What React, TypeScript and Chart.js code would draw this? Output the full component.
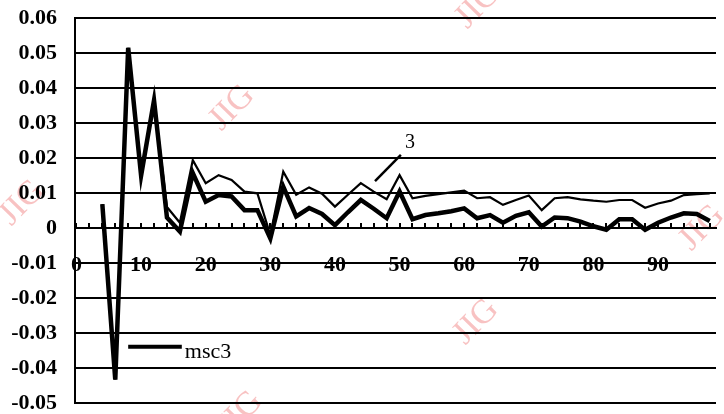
import { useEffect, useRef } from 'react';
import { Chart, registerables } from 'chart.js';

Chart.register(...registerables);

// x positions of the samples
const positions = [4, 6, 8, 10, 12, 14, 16, 18, 20, 22, 24, 26, 28, 30, 32, 34, 36, 38, 40, 42, 44, 46, 48, 50,
  52, 54, 56, 58, 60, 62, 64, 66, 68, 70, 72, 74, 76, 78, 80, 82, 84, 86, 88, 90, 92, 94, 96, 98];

// thick series "msc3"
const msc3 = [0.0068, -0.0433, 0.0515, 0.015, 0.0365, 0.003, -0.001, 0.0157, 0.0075, 0.0094, 0.009, 0.0051,
  0.0051, -0.003, 0.0118, 0.0033, 0.0057, 0.004, 0.0008, 0.0045, 0.008, 0.0055, 0.0028, 0.0104,
  0.0025, 0.0037, 0.0042, 0.0048, 0.0056, 0.0028, 0.0037, 0.0015, 0.0035, 0.0045, 0.0004, 0.003,
  0.0028, 0.0018, 0.0005, -0.0005, 0.0025, 0.0025, -0.0005, 0.0015, 0.003, 0.0042, 0.004, 0.002];

// thin series "3"
const series3 = [0.0068, -0.0433, 0.0515, 0.015, 0.0365, 0.006, 0.0015, 0.0194, 0.0128, 0.0151, 0.0137, 0.0104,
  0.0099, -0.002, 0.0161, 0.0095, 0.0116, 0.0098, 0.0061, 0.0095, 0.0128, 0.0104, 0.0082, 0.0151,
  0.0085, 0.0092, 0.0097, 0.0102, 0.0107, 0.0085, 0.0088, 0.0066, 0.008, 0.0093, 0.0051, 0.0085,
  0.0088, 0.0082, 0.0078, 0.0075, 0.008, 0.008, 0.0058, 0.007, 0.0078, 0.0094, 0.0097, 0.0099];

const xLabelValues = [0, 10, 20, 30, 40, 50, 60, 70, 80, 90];
const xMinorTicks = [0, 2, 4, 6, 8, 10, 12, 14, 16, 18, 20, 22, 24, 26, 28, 30, 32, 34, 36, 38, 40, 42, 44, 46, 48,
  50, 52, 54, 56, 58, 60, 62, 64, 66, 68, 70, 72, 74, 76, 78, 80, 82, 84, 86, 88, 90, 92, 94, 96, 98];

const Y_MIN = -0.05;
const Y_MAX = 0.06;
const Y_STEP = 0.01;

const LEGEND_TEXT = 'msc3';
const CURVE_LABEL = '3';
const WATERMARK = 'JIG';

const SERIF = '"Liberation Serif", "Times New Roman", serif';

export default function App() {
  const ref = useRef<HTMLCanvasElement>(null);

  useEffect(() => {
    document.body.style.margin = '0';
    const canvas = ref.current;
    if (!canvas) return;

    const decorations = {
      id: 'decorations',
      beforeDraw(chart: any) {
        const ctx = chart.ctx;
        const marks = [
          [232, 108], [478, 6], [22, 203], [476, 322], [702, 228], [240, 414],
        ];
        ctx.save();
        ctx.fillStyle = 'rgba(240, 120, 120, 0.45)';
        ctx.font = `34px ${SERIF}`;
        ctx.textAlign = 'center';
        ctx.textBaseline = 'middle';
        for (const [x, y] of marks) {
          ctx.save();
          ctx.translate(x, y);
          ctx.rotate(-0.8);
          ctx.fillText(WATERMARK, 0, 0);
          ctx.restore();
        }
        ctx.restore();
      },
      afterDatasetsDraw(chart: any) {
        const ctx = chart.ctx;
        const xs = chart.scales.x;
        const ys = chart.scales.y;
        ctx.save();
        // legend
        const lx1 = xs.getPixelForValue(8);
        const lx2 = xs.getPixelForValue(16.3);
        const ly = ys.getPixelForValue(-0.0339);
        ctx.strokeStyle = '#000';
        ctx.lineWidth = 4;
        ctx.beginPath();
        ctx.moveTo(lx1, ly);
        ctx.lineTo(lx2, ly);
        ctx.stroke();
        ctx.fillStyle = '#000';
        ctx.font = `22px ${SERIF}`;
        ctx.textAlign = 'left';
        ctx.textBaseline = 'alphabetic';
        ctx.fillText(LEGEND_TEXT, lx2 + 3, ly + 11);
        // curve label "3" with pointer
        ctx.lineWidth = 2.5;
        ctx.beginPath();
        ctx.moveTo(xs.getPixelForValue(46.2), ys.getPixelForValue(0.0134));
        ctx.lineTo(xs.getPixelForValue(50.2), ys.getPixelForValue(0.0209));
        ctx.stroke();
        ctx.font = `20px ${SERIF}`;
        ctx.textAlign = 'center';
        ctx.fillText(CURVE_LABEL, xs.getPixelForValue(51.6), ys.getPixelForValue(0.0229));
        ctx.restore();
      },
    };

    const chart = new Chart(canvas, {
      type: 'line',
      data: {
        datasets: [
          {
            label: 'msc3',
            data: positions.map((x, i) => ({ x, y: msc3[i] })),
            borderColor: '#000',
            borderWidth: 4.5,
            pointRadius: 0,
            tension: 0,
            fill: false,
          },
          {
            label: '3',
            data: positions.map((x, i) => ({ x, y: series3[i] })),
            borderColor: '#000',
            borderWidth: 2.2,
            pointRadius: 0,
            tension: 0,
            fill: false,
          },
        ],
      },
      options: {
        responsive: false,
        animation: false,
        layout: { padding: { top: 18, bottom: 11, left: 0, right: 8 } },
        plugins: {
          legend: { display: false },
          tooltip: { enabled: false },
        },
        scales: {
          x: {
            type: 'linear',
            min: -0.23,
            max: 98.97,
            position: { y: 0 } as any,
            afterBuildTicks: (s: any) => {
              s.ticks = xMinorTicks.map((v) => ({ value: v }));
            },
            afterFit: (s: any) => {
              s.paddingLeft = 0;
              s.paddingRight = 0;
            },
            ticks: {
              autoSkip: false,
              maxRotation: 0,
              minRotation: 0,
              padding: 30,
              color: '#000',
              font: { family: SERIF, size: 22, weight: 'bold' },
              callback: (v: any) => (xLabelValues.includes(Number(v)) ? String(v) : ''),
            },
            grid: { drawOnChartArea: false, color: '#000', lineWidth: 2, tickLength: -6 },
            border: { color: '#000', width: 2 },
          },
          y: {
            type: 'linear',
            min: Y_MIN,
            max: Y_MAX,
            afterFit: (s: any) => {
              s.width = 75;
              s.paddingTop = 0;
              s.paddingBottom = 0;
            },
            ticks: {
              stepSize: Y_STEP,
              padding: 18,
              color: '#000',
              font: { family: SERIF, size: 22, weight: 'bold' },
              callback: (v: any) => {
                const r = Math.round(Number(v) * 100) / 100;
                return r === 0 ? '0' : r.toFixed(2);
              },
            },
            grid: { color: '#000', lineWidth: 2, drawTicks: false },
            border: { color: '#000', width: 2 },
          },
        },
      },
      plugins: [decorations],
    });

    return () => chart.destroy();
  }, []);

  return (
    <div style={{ width: 724, height: 414 }}>
      <canvas ref={ref} width={724} height={414} style={{ display: 'block' }} />
    </div>
  );
}
